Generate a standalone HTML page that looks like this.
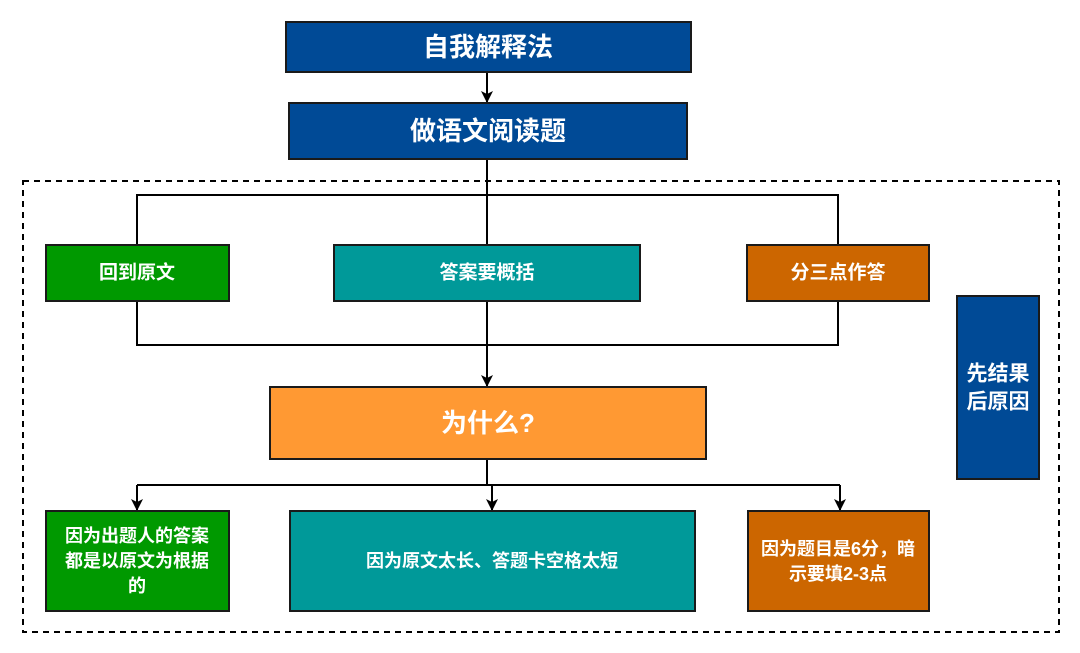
<!DOCTYPE html>
<html><head><meta charset="utf-8"><style>
html,body{margin:0;padding:0;background:#fff;width:1080px;height:653px;overflow:hidden}
text{font-family:"Liberation Sans","Noto Sans CJK SC",sans-serif;font-weight:bold;fill:#fff;text-anchor:middle;dominant-baseline:central}
</style></head><body>
<svg width="1080" height="653" viewBox="0 0 1080 653" xmlns="http://www.w3.org/2000/svg">
<defs><marker id="a" markerWidth="12" markerHeight="12" refX="11" refY="6" orient="auto" markerUnits="userSpaceOnUse"><path d="M0,0 L12,6 L0,12 L3,6 Z" fill="#000"/></marker></defs>
<rect x="23" y="181" width="1036" height="451" fill="none" stroke="#000" stroke-width="2" stroke-dasharray="6,5"/>
<g stroke="#000" stroke-width="2" fill="none">
<line x1="487" y1="72" x2="487" y2="102" marker-end="url(#a)"/>
<line x1="487" y1="159" x2="487" y2="245"/>
<polyline points="137,245 137,195 838,195 838,245"/>
<polyline points="137,301 137,345 838,345 838,301"/>
<line x1="487" y1="301" x2="487" y2="386" marker-end="url(#a)"/>
<line x1="487" y1="459" x2="487" y2="485"/>
<line x1="137" y1="485" x2="840" y2="485"/>
<line x1="137" y1="485" x2="137" y2="510" marker-end="url(#a)"/>
<line x1="492" y1="485" x2="492" y2="510" marker-end="url(#a)"/>
<line x1="840" y1="485" x2="840" y2="510" marker-end="url(#a)"/>
</g>
<g stroke="#1a1a1a" stroke-width="2">
<rect x="286" y="22" width="405" height="50" fill="#004a96"/>
<rect x="289" y="103" width="398" height="56" fill="#004a96"/>
<rect x="46" y="245" width="183" height="56" fill="#009900"/>
<rect x="334" y="245" width="306" height="56" fill="#009999"/>
<rect x="747" y="245" width="182" height="56" fill="#cc6600"/>
<rect x="270" y="387" width="436" height="72" fill="#ff9933"/>
<rect x="46" y="511" width="183" height="100" fill="#009900"/>
<rect x="290" y="511" width="405" height="100" fill="#009999"/>
<rect x="748" y="511" width="181" height="100" fill="#cc6600"/>
<rect x="957" y="296" width="82" height="183" fill="#004a96"/>
</g>
<text x="488" y="47" font-size="26">自我解释法</text>
<text x="488" y="131" font-size="26">做语文阅读题</text>
<text x="137" y="273" font-size="19">回到原文</text>
<text x="487" y="273" font-size="19">答案要概括</text>
<text x="838" y="273" font-size="19">分三点作答</text>
<text x="488" y="423" font-size="26">为什么?</text>
<text x="137" y="536" font-size="18">因为出题人的答案</text>
<text x="137" y="561" font-size="18">都是以原文为根据</text>
<text x="137" y="586" font-size="18">的</text>
<text x="492" y="561" font-size="18">因为原文太长、答题卡空格太短</text>
<text x="838" y="549" font-size="18">因为题目是6分，暗</text>
<text x="838" y="574" font-size="18">示要填2-3点</text>
<text x="998" y="374" font-size="21">先结果</text>
<text x="998" y="402" font-size="21">后原因</text>
</svg>
</body></html>
